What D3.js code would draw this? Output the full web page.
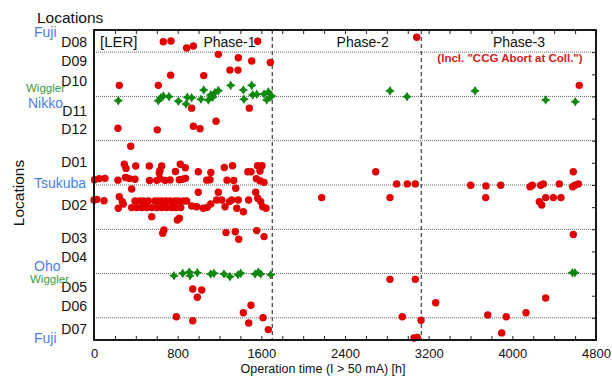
<!DOCTYPE html>
<html>
<head>
<meta charset="utf-8">
<script src="https://d3js.org/d3.v7.min.js"></script>
<style>
  body { margin: 0; background: #fff; }
  svg { display: block; font-family: Arial, "Liberation Sans", sans-serif; }
</style>
</head>
<body>
<div id="chart"></div>
<script>

// Axis ticks and phase boundaries [h]
var xTicks = [0, 800, 1600, 2400, 3200, 4000, 4800];
var phaseBounds = [1705, 3130];
var phaseNames = ["Phase-1", "Phase-2", "Phase-3"];

// Section lines between location groups (y units, 0 = bottom)
var sectionLines = [1, 3, 5, 7, 9, 11, 13];

// Location tick labels
var dLabels = ["D08", "D09", "D10", "D11", "D12", "D01", "D02", "D03", "D04", "D05", "D06", "D07"];
var dLabelPos = [13.47, 12.61, 11.70, 10.33, 9.53, 8.04, 6.08, 4.61, 3.76, 2.39, 1.55, 0.50];

// Site names
var siteLabels = ["Fuji", "Nikko", "Tsukuba", "Oho", "Fuji"];
var sitePos = [13.92, 10.70, 7.10, 3.36, 0.07];
var wigglerPos = [11.38, 2.76];

// Red: abort events [operation time h, location]
var redEvents = [
  [663, 13.47], [736, 13.50], [886, 13.19], [950, 13.28], [1565, 13.49], [3086, 13.67],
  [1189, 12.90], [1380, 12.75], [1508, 12.60], [1686, 12.53], [1300, 12.19], [1377, 12.19],
  [733, 11.96], [1049, 11.94], [242, 11.50], [615, 11.50], [4640, 11.50],
  [934, 10.47], [1485, 10.47], [229, 9.56], [605, 9.49], [950, 9.65], [1014, 9.54], [1167, 9.88], [351, 8.75],
  [290, 7.94], [306, 7.75], [399, 7.86], [529, 7.86], [647, 7.86], [631, 7.66], [624, 7.54], [779, 7.61],
  [825, 7.94], [873, 7.78], [997, 7.60], [1117, 7.57], [1246, 7.79], [1324, 7.87], [1471, 7.60], [1501, 7.60],
  [1563, 7.87], [1606, 7.87], [1587, 7.63],
  [5, 7.24], [51, 7.29], [105, 7.30], [229, 7.22], [301, 7.34], [338, 7.29], [392, 7.26], [531, 7.20],
  [600, 7.21], [631, 7.28], [679, 7.21], [727, 7.23], [816, 7.24], [846, 7.26], [875, 7.30], [1078, 7.22],
  [1109, 7.24], [1272, 7.22], [1336, 7.20], [1552, 7.29], [1587, 7.19], [1626, 7.12],
  [2694, 7.60], [2177, 6.43], [2830, 6.43], [2894, 7.05], [2996, 7.05], [3072, 7.05], [3602, 6.99],
  [3748, 6.96], [3745, 6.43], [3889, 6.99], [4169, 6.92], [4191, 6.99], [4271, 6.99], [4296, 7.05],
  [4258, 6.25], [4281, 6.10], [4319, 6.43], [4392, 6.43], [4449, 7.05], [4465, 6.43], [4583, 7.60],
  [4577, 6.92], [4599, 6.99], [4631, 7.05], [4583, 4.77],
  [360, 6.82], [0, 6.32], [26, 6.35], [96, 6.29], [242, 6.47], [271, 6.25], [280, 6.14], [232, 5.95],
  [552, 5.57], [797, 5.42], [816, 5.50], [997, 6.67], [1189, 6.67], [1355, 6.85], [1546, 6.67], [1428, 5.79],
  [392, 6.28], [440, 6.28], [471, 6.28], [519, 6.28], [583, 6.28], [615, 6.28], [647, 6.28], [688, 6.28],
  [727, 6.28], [775, 6.28], [806, 6.28], [854, 6.28], [886, 6.28],
  [360, 5.98], [408, 5.98], [456, 5.98], [504, 5.98], [552, 5.98], [600, 5.98], [647, 5.98], [695, 5.98],
  [743, 5.98], [784, 5.98], [829, 5.98], [488, 6.12], [660, 6.12], [760, 6.12],
  [934, 6.05], [982, 6.02], [1045, 5.95], [1083, 5.99], [1116, 6.14], [1173, 6.32], [1221, 6.32],
  [1253, 6.02], [1294, 6.25], [1317, 6.32], [1365, 5.95], [1380, 6.32], [1479, 6.32], [1565, 6.40],
  [1594, 6.25], [1613, 6.02], [1645, 5.95],
  [669, 4.97], [657, 4.82], [1262, 4.85], [1351, 4.89], [1384, 4.55], [1556, 4.94], [1626, 4.67],
  [944, 2.30], [1030, 2.26], [988, 1.93], [787, 1.05], [944, 0.87], [1428, 1.23], [1501, 1.57],
  [1479, 0.77], [1616, 1.01], [1667, 0.47], [2830, 2.74], [3072, 2.74], [3267, 1.68], [2948, 1.05],
  [3127, 0.89], [3060, 0.09], [3091, 0.12], [3765, 1.13], [3942, 1.05], [4131, 1.23], [4319, 1.90], [3898, 0.32]
];

// Green: wiggler events [operation time h, location]
var greenEvents = [
  [232, 10.81], [615, 10.81], [638, 10.94], [663, 11.02], [717, 10.99], [806, 10.79], [880, 10.66],
  [892, 10.96], [934, 10.94], [1023, 10.87], [1049, 11.29], [1093, 10.84], [1116, 11.07], [1157, 11.17],
  [1189, 11.26], [1135, 10.96], [1307, 11.50], [1428, 11.29], [1434, 10.87], [1508, 11.50], [1517, 11.07],
  [1556, 11.10], [1626, 11.11], [1667, 11.21], [1651, 10.84], [1683, 10.96], [1699, 11.02],
  [2830, 11.25], [2993, 10.99], [3643, 11.25], [4319, 10.84], [4602, 10.76],
  [765, 2.90], [848, 3.01], [911, 3.07], [918, 2.90], [988, 3.04], [1116, 2.98], [1147, 3.01],
  [1243, 2.98], [1300, 2.86], [1377, 2.95], [1403, 3.01], [1540, 2.98], [1571, 3.07], [1594, 2.98],
  [1690, 2.95], [4574, 3.04], [4599, 3.04]
];


LocationChart = function(_parentElement){
  this.parentElement = _parentElement;
  this.initVis();
}

LocationChart.prototype.initVis = function(){
  var vis = this;

  vis.margin = {top: 30, right: 16, bottom: 49, left: 94};
  vis.width = 612 - vis.margin.left - vis.margin.right;
  vis.height = 389 - vis.margin.top - vis.margin.bottom;

  vis.root = d3.select("#" + vis.parentElement).append("svg")
    .attr("width", 612)
    .attr("height", 389);

  vis.svg = vis.root.append("g")
    .attr("transform", "translate(" + vis.margin.left + "," + vis.margin.top + ")");

  // Scales
  vis.x = d3.scaleLinear().domain([0, 4800]).range([0, vis.width]);
  vis.y = d3.scaleLinear().domain([0, 14]).range([vis.height, 0]);

  vis.updateVis();
}

LocationChart.prototype.updateVis = function(){
  var vis = this;

  // Section lines
  vis.svg.selectAll(".section")
    .data(sectionLines)
    .enter().append("line")
    .attr("class", "section")
    .attr("x1", 0).attr("x2", vis.width)
    .attr("y1", function(d){ return vis.y(d) })
    .attr("y2", function(d){ return vis.y(d) })
    .attr("stroke", "#666")
    .attr("stroke-width", 1)
    .attr("stroke-dasharray", "1,1");

  // Phase boundaries
  vis.svg.selectAll(".phase")
    .data(phaseBounds)
    .enter().append("line")
    .attr("class", "phase")
    .attr("x1", function(d){ return vis.x(d) })
    .attr("x2", function(d){ return vis.x(d) })
    .attr("y1", 0).attr("y2", vis.height)
    .attr("stroke", "#555")
    .attr("stroke-width", 1.4)
    .attr("stroke-dasharray", "4,3");

  // Axes with inward ticks
  var minor = d3.range(0, 4801, 200);
  vis.svg.append("g")
    .attr("class", "x-axis")
    .attr("transform", "translate(0," + vis.height + ")")
    .call(d3.axisBottom(vis.x).tickValues(minor).tickSize(-4).tickPadding(9)
      .tickFormat(function(d){ return xTicks.indexOf(d) >= 0 ? d : "" }));

  vis.svg.append("g")
    .call(d3.axisTop(vis.x).tickValues(minor).tickSize(-4).tickFormat(""));

  vis.svg.append("g")
    .attr("transform", "translate(" + vis.width + ",0)")
    .call(d3.axisRight(vis.y).tickValues(d3.range(0, 15)).tickSize(-4).tickFormat(""));

  vis.svg.append("g")
    .attr("class", "y-axis")
    .call(d3.axisLeft(vis.y).tickValues(dLabelPos).tickSize(0).tickPadding(7)
      .tickFormat(function(d, i){ return dLabels[i] }));

  vis.svg.selectAll(".domain").remove();
  vis.svg.selectAll(".tick line").attr("stroke", "#222").attr("stroke-width", 1);
  vis.svg.selectAll(".x-axis text")
    .attr("font-size", "13px").attr("fill", "#111").attr("font-family", null);
  vis.svg.selectAll(".y-axis text")
    .attr("font-size", "14px").attr("fill", "#111").attr("font-family", null);

  // Markers
  vis.svg.selectAll(".red")
    .data(redEvents)
    .enter().append("circle")
    .attr("class", "red")
    .attr("cx", function(d){ return vis.x(d[0]) })
    .attr("cy", function(d){ return vis.y(d[1]) })
    .attr("r", 3.7)
    .attr("fill", "#e00000");

  var star = "M0,-4.8L1.8,-1.8L4.8,0L1.8,1.8L0,4.8L-1.8,1.8L-4.8,0L-1.8,-1.8Z";
  vis.svg.selectAll(".green")
    .data(greenEvents)
    .enter().append("path")
    .attr("class", "green")
    .attr("d", star)
    .attr("transform", function(d){ return "translate(" + vis.x(d[0]) + "," + vis.y(d[1]) + ")" })
    .attr("fill", "#0e870e");

  // Frame
  vis.svg.append("rect")
    .attr("width", vis.width).attr("height", vis.height)
    .attr("fill", "none").attr("stroke", "#000").attr("stroke-width", 1.8);

  // Site names on the left
  vis.root.selectAll(".site")
    .data(siteLabels)
    .enter().append("text")
    .attr("class", "site")
    .attr("x", function(d, i){ return i == 1 ? 28 : 34 })
    .attr("y", function(d, i){ return vis.margin.top + vis.y(sitePos[i]) + 5 })
    .attr("font-size", "14px")
    .attr("fill", "#4a7fe6")
    .text(function(d){ return d });

  vis.root.selectAll(".wiggler")
    .data(wigglerPos)
    .enter().append("text")
    .attr("class", "wiggler")
    .attr("x", function(d, i){ return i == 0 ? 26 : 30 })
    .attr("y", function(d){ return vis.margin.top + vis.y(d) + 4 })
    .attr("font-size", "11.5px")
    .attr("fill", "#3c9a3c")
    .text("Wiggler");

  // Titles and notes
  vis.root.append("text")
    .attr("x", 37).attr("y", 22.5)
    .attr("font-size", "15.5px").attr("fill", "#111")
    .text("Locations");

  vis.root.append("text")
    .attr("transform", "translate(24,193) rotate(-90)")
    .attr("text-anchor", "middle")
    .attr("font-size", "15.5px").attr("fill", "#111")
    .text("Locations");

  vis.root.append("text")
    .attr("x", 323).attr("y", 373)
    .attr("text-anchor", "middle")
    .attr("font-size", "12.5px").attr("fill", "#111")
    .text("Operation time (I > 50 mA) [h]");

  vis.root.append("text")
    .attr("x", 100).attr("y", 47)
    .attr("font-size", "15px").attr("fill", "#111")
    .text("[LER]");

  var phaseX = [229.5, 362.7, 519];
  vis.root.selectAll(".phase-name")
    .data(phaseNames)
    .enter().append("text")
    .attr("class", "phase-name")
    .attr("x", function(d, i){ return phaseX[i] })
    .attr("y", 47)
    .attr("text-anchor", "middle")
    .attr("font-size", "14px").attr("fill", "#111")
    .text(function(d){ return d });

  vis.root.append("text")
    .attr("x", 510).attr("y", 62)
    .attr("text-anchor", "middle")
    .attr("font-size", "11.5px").attr("font-weight", "bold").attr("fill", "#d42020")
    .text("(Incl. \"CCG Abort at Coll.\")");
}

new LocationChart("chart");

</script>
</body>
</html>
